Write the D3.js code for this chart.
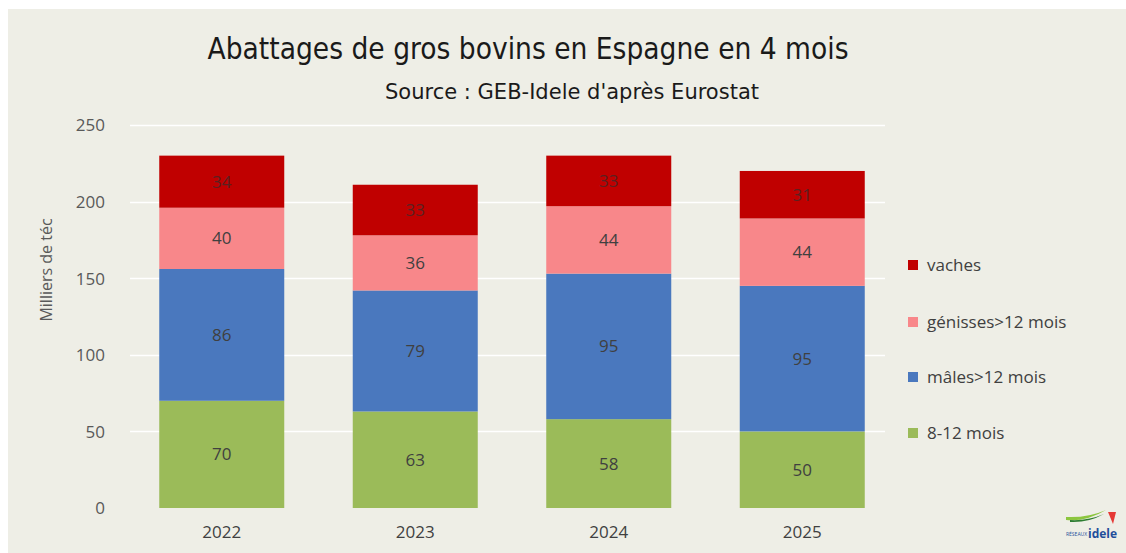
<!DOCTYPE html>
<html><head><meta charset="utf-8">
<script src="https://cdn.jsdelivr.net/npm/d3@7"></script>
<style>
html,body{margin:0;padding:0;background:#fff;}
svg{display:block;}
</style></head>
<body>
<svg id="chart" width="1126" height="553"></svg>
<script>
const years = ["2022","2023","2024","2025"];
const seriesNames = ["8-12 mois","mâles>12 mois","génisses>12 mois","vaches"];
const vals812 = [70,63,58,50];
const valsMales = [86,79,95,95];
const valsGenisses = [40,36,44,44];
const valsVaches = [34,33,33,31];
const yTicks = [0,50,100,150,200,250];
const colors = ["#9BBB59","#4A78BE","#F8878A","#C00000"];

const svg = d3.select("#chart");
const W = 1126, H = 553;
const condensed = "'Liberation Sans Narrow','DejaVu Sans Condensed','Open Sans',sans-serif";
const body = "'Open Sans','Noto Sans',sans-serif";

svg.append("rect").attr("x",0).attr("y",0).attr("width",W).attr("height",H).attr("fill","#ffffff");
svg.append("rect").attr("x",8).attr("y",9).attr("width",W-8).attr("height",H-9).attr("fill","#EEEEE6");

const x = d3.scaleBand().domain(years).range([125,899]).paddingInner(0.354).paddingOuter(0.177);
const y = d3.scaleLinear().domain([0,250]).range([508,125]);

svg.append("g").selectAll("line").data(yTicks.filter(d=>d>0)).join("line")
  .attr("x1",130).attr("x2",885)
  .attr("y1",d=>Math.round(y(d))+0.5).attr("y2",d=>Math.round(y(d))+0.5)
  .attr("stroke","#ffffff").attr("stroke-width",1.5);

const yAxis = d3.axisLeft(y).tickValues(yTicks).tickSize(0).tickPadding(0);
const yg = svg.append("g").attr("transform","translate(105,0)").call(yAxis);
yg.select(".domain").remove();
yg.selectAll("text").attr("font-family",body).attr("font-size",17).attr("fill","#595959").attr("dy","0.35em");

const xAxis = d3.axisBottom(x).tickSize(0).tickPadding(0);
const xg = svg.append("g").attr("transform","translate(0,526)").call(xAxis);
xg.select(".domain").remove();
xg.selectAll("text").attr("font-family",body).attr("font-size",17).attr("fill","#404040").attr("dy","0.71em");

const table = years.map((yr,i)=>({year:yr,"8-12 mois":vals812[i],"mâles>12 mois":valsMales[i],"génisses>12 mois":valsGenisses[i],"vaches":valsVaches[i]}));
const stack = d3.stack().keys(seriesNames)(table);

const layers = svg.append("g").selectAll("g").data(stack).join("g").attr("fill",(d,i)=>colors[i]);
layers.selectAll("rect").data(d=>d).join("rect")
  .attr("x",d=>x(d.data.year))
  .attr("width",x.bandwidth())
  .attr("y",d=>y(d[1]))
  .attr("height",d=>y(d[0])-y(d[1]));

const labels = svg.append("g").selectAll("g").data(stack).join("g");
labels.selectAll("text").data(d=>d.map(p=>({p,key:d.key}))).join("text")
  .attr("x",d=>x(d.p.data.year)+x.bandwidth()/2)
  .attr("y",d=>(y(d.p[0])+y(d.p[1]))/2)
  .attr("dy","0.35em")
  .attr("text-anchor","middle")
  .attr("font-family",body).attr("font-size",17)
  .attr("fill",d=>d.key==="vaches"?"#5a2020":"#404040")
  .text(d=>d.p.data[d.key]);

svg.append("text").attr("transform","translate(52,270) rotate(-90)")
  .attr("text-anchor","middle").attr("font-family",body).attr("font-size",16).attr("fill","#595959")
  .text("Milliers de téc");

svg.append("text").attr("x",528).attr("y",59).attr("text-anchor","middle")
  .attr("font-family",condensed).attr("font-size",30).attr("fill","#1a1a1a")
  .attr("textLength",641).attr("lengthAdjust","spacingAndGlyphs")
  .text("Abattages de gros bovins en Espagne en 4 mois");
svg.append("text").attr("x",572).attr("y",99).attr("text-anchor","middle")
  .attr("font-family",condensed).attr("font-size",22).attr("fill","#1a1a1a")
  .attr("textLength",374).attr("lengthAdjust","spacingAndGlyphs")
  .text("Source : GEB-Idele d'après Eurostat");

const legendOrder = ["vaches","génisses>12 mois","mâles>12 mois","8-12 mois"];
const legendY = [265,322,377,433];
const lg = svg.append("g").selectAll("g").data(legendOrder).join("g")
  .attr("transform",(d,i)=>`translate(908,${legendY[i]})`);
lg.append("rect").attr("x",0).attr("y",-5).attr("width",10).attr("height",10)
  .attr("fill",d=>colors[seriesNames.indexOf(d)]);
lg.append("text").attr("x",19).attr("y",0).attr("dy","0.35em")
  .attr("font-family",body).attr("font-size",17).attr("fill","#404040").text(d=>d);

const logo = svg.append("g").attr("transform","translate(1066,508)");
logo.append("path").attr("d","M0,12 Q20,14 40,2 Q22,10 0,9 Z").attr("fill","#8cc63f");
logo.append("path").attr("d","M4,14 Q22,15 38,6 Q22,13 4,12 Z").attr("fill","#2e7d32");
logo.append("path").attr("d","M42,4 L50,4 L47,16 Z").attr("fill","#e53935");
logo.append("text").attr("x",0).attr("y",28).attr("font-family",body).attr("font-size",5).attr("fill","#1f4e9b").text("RÉSEAUX");
logo.append("text").attr("x",22).attr("y",30).attr("font-family",body).attr("font-weight","bold").attr("font-size",12).attr("fill","#1f4e9b").text("idele");
</script>
</body></html>
